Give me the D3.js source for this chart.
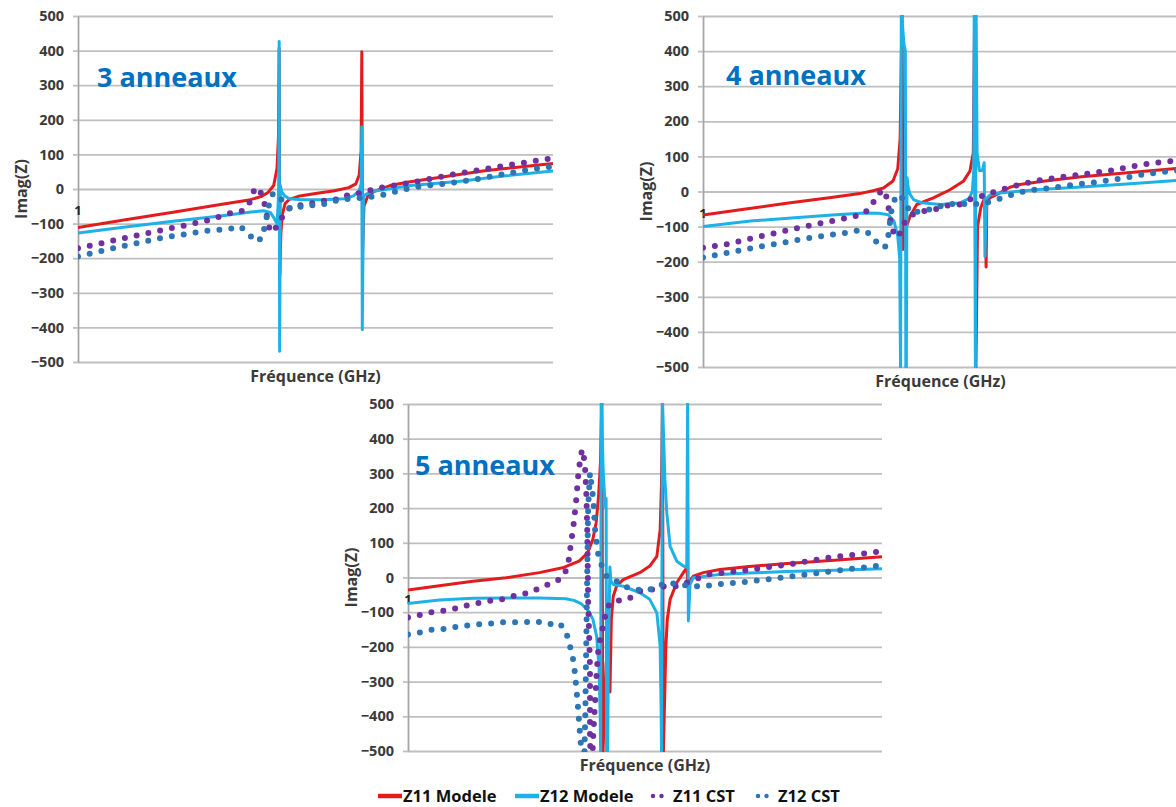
<!DOCTYPE html>
<html lang="fr">
<head>
    <meta charset="UTF-8">
    <title>Imag(Z) - 3, 4 et 5 anneaux</title>
    <script src="https://d3js.org/d3.v7.min.js"></script>
    <style>
        body {
            margin: 0;
            background: #ffffff;
        }

        svg {
            display: block;
        }

        .grid line {
            stroke: #bfbfbf;
            stroke-width: 1.8;
        }

        .grid path {
            display: none;
        }

        .y-axis path {
            stroke: #a6a6a6;
            stroke-width: 1.8;
        }

        .y-axis line {
            stroke: #bfbfbf;
            stroke-width: 1.8;
        }

        .y-axis text {
            font-family: "Open Sans", sans-serif;
            font-weight: 700;
            font-size: 14.5px;
            fill: #3a3a3a;
        }

        .axis-title {
            font-family: "Open Sans", sans-serif;
            font-weight: 700;
            font-size: 16px;
            fill: #3a3a3a;
        }

        .panel-title {
            font-family: "Open Sans", sans-serif;
            font-weight: 700;
            font-size: 27px;
            fill: #0070c0;
        }

        .cat-label {
            font-family: "Open Sans", sans-serif;
            font-weight: 700;
            font-size: 13px;
            fill: #262626;
        }

        .legend-text {
            font-family: "Open Sans", sans-serif;
            font-weight: 700;
            font-size: 16.5px;
            fill: #111111;
        }
    </style>
</head>
<body>
    <div id="chart"></div>
    <script>
        // x : position relative sur l'axe des fréquences (0..100, pas de graduations), y : Imag(Z)
        const panelTitles = ["3 anneaux", "4 anneaux", "5 anneaux"];
        const seriesNames = ["Z11 Modele", "Z12 Modele", "Z11 CST", "Z12 CST"];
        const yTicks = [-500, -400, -300, -200, -100, 0, 100, 200, 300, 400, 500];
        const xCategory = "1";

        // --- 3 anneaux ---
        const p1Z11Modele = [[0,-111],[10,-89],[20,-67],[30,-45],[36,-32],[38.5,-22],[40,-10],[41.2,10],[41.9,60],[42.2,150],[42.35,407],[42.5,-248],[42.7,-130],[43,-75],[43.6,-42],[44.5,-30],[46.7,-20],[50,-13],[54,-5],[57,4],[58.5,15],[59.2,40],[59.6,110],[59.75,397],[59.9,-185],[60.2,-50],[61,-20],[62.5,-6],[65.7,10],[69.6,20],[77.4,36],[85.2,52],[100,74]];
        const p1Z12Modele = [[0,-127],[10,-110],[20,-93],[30,-78],[36,-67],[39,-63],[40.5,-68],[41.3,-85],[41.9,-100],[42.15,-40],[42.25,10],[42.35,426],[42.45,-469],[42.6,10],[42.9,-8],[43.5,-20],[44.5,-28],[47,-31],[52,-31],[56,-28],[58,-20],[59.2,-5],[59.6,15],[59.75,180],[59.85,-407],[60.1,-20],[61.8,-7],[64,-3],[70,10],[80,22],[90,38],[100,52]];
        const p1Z11CST = [[0,-171],[5.2,-156],[10.7,-139],[16.1,-123],[21.6,-108],[27.1,-91],[32.1,-70],[34.9,-62],[36.2,-37],[37.3,5],[38.7,-14],[39.4,-50],[39.9,-90],[40.5,-125],[41.5,-115],[42.5,-95],[43.6,-64],[45.3,-49],[48.4,-45],[51,-35],[54,-32],[56,-20],[59,-13],[61.5,-4],[64.5,6],[70.4,19],[78,40],[88.7,65],[100,89]];
        const p1Z12CST = [[0,-195],[5.2,-178],[9.9,-164],[12.6,-156],[17.3,-142],[22,-132],[27.1,-121],[31.7,-116],[34.1,-108],[35.9,-128],[37.2,-152],[38.8,-142],[39.3,-108],[39.9,-70],[40.3,-37],[41.1,-11],[42.5,-25],[43.8,-45],[45,-60],[46.5,-52],[48.5,-47],[51,-47],[53.5,-36],[56,-30],[60,-25],[63,-21],[66,-11],[68,-3],[71,5],[75,12],[80,20],[85,31],[90,44],[95,56],[100,65]];

        // --- 4 anneaux ---
        const p2Z11Modele = [[0,-67],[9,-50],[18,-33],[27,-17],[33,-6],[36,3],[38,10],[40,30],[41,65],[41.5,150],[41.9,520],[42.1,-165],[42.6,-110],[43.6,-70],[45,-37],[48.5,-18],[52,5],[54.8,29],[56.2,58],[56.9,110],[57.2,520],[57.45,-520],[57.8,-100],[58.5,-45],[59.3,-18],[59.5,-100],[59.6,-215],[59.75,-30],[60.4,-18],[62.5,-4],[64.6,12],[66.7,20],[72,30],[79.7,42],[90,54],[100,66]];
        const p2Z12Modele = [[0,-100],[10,-84],[20,-74],[28,-66],[34,-61],[37,-62],[39,-66],[40.2,-84],[41,-127],[41.4,-190],[41.6,-520],[41.75,520],[42.3,420],[42.6,400],[42.7,-520],[42.8,-520],[42.95,40],[43.2,10],[43.6,-8],[44.3,-23],[46,-32],[50,-37],[54,-33],[56,-20],[56.7,0],[57,60],[57.1,520],[57.35,-520],[57.5,520],[57.7,110],[58.2,60],[58.8,60],[59.2,82],[59.35,-185],[59.7,-20],[60.4,-10],[62.5,-4],[70,5],[79.7,13],[90,22],[100,32]];
        const p2Z11CST = [[0,-160],[5,-150],[10,-134],[15,-119],[20,-104],[25,-90],[30,-76],[33.7,-65],[35.5,-42],[36.6,-8],[38.3,4],[39,-40],[39.7,-108],[41.1,-131],[42,-100],[43,-75],[44.3,-65],[46.4,-56],[48.8,-51],[51.3,-40],[54,-37],[56.6,-20],[59,-12],[61.5,0],[65.4,15],[70.7,32],[75.9,42],[81.2,51],[86.4,61],[91.7,75],[97,85],[100,88]];
        const p2Z12CST = [[0,-188],[5,-175],[10,-162],[15,-150],[20,-138],[25,-127],[30,-118],[33.1,-110],[35.2,-120],[36.6,-145],[38.3,-160],[39,-127],[39.4,-84],[39.7,-51],[40.1,-27],[41.5,-8],[42.8,-40],[43.9,-62],[45.7,-56],[48.2,-50],[51.3,-36],[54,-35],[56.6,-37],[59.7,-32],[61.1,-27],[63.5,-16],[66,-5],[68.4,3],[73.3,10],[78.2,20],[83,27],[88,37],[93.2,50],[97.3,56],[100,60]];

        // --- 5 anneaux ---
        const p3Z11Modele = [[0,-36],[7,-23],[13.7,-11],[20.7,-1],[27.7,14],[32.6,28],[36.1,47],[37.9,71],[39,110],[39.7,158],[40.2,234],[40.6,330],[40.9,520],[41.1,-520],[41.8,-250],[42.3,-190],[42.6,-330],[42.9,-120],[43.3,-54],[44,-25],[45.4,-6],[48.9,14],[51,33],[52.5,61],[53.2,138],[53.5,282],[53.7,520],[53.85,-520],[54.4,-198],[54.7,-121],[55.3,-63],[56.7,-15],[58.1,14],[58.8,28],[59.2,-40],[59.5,-10],[60.2,4],[62.3,14],[65.8,23],[72,32],[80,40],[90,50],[100,60]];
        const p3Z12Modele = [[0,-75],[6.6,-65],[13.7,-60],[20.7,-59],[27.7,-59],[33.3,-61],[35,-66],[36.5,-75],[38,-95],[39,-120],[39.8,-170],[40.3,-260],[40.55,-400],[40.65,-520],[40.75,520],[41.2,300],[41.5,228],[41.7,200],[41.8,228],[41.9,-520],[42.1,-520],[42.3,-200],[42.6,30],[42.8,-10],[43.3,-20],[45.4,-25],[48.9,-44],[51,-63],[52.5,-102],[53.2,-198],[53.4,-380],[53.5,-520],[53.65,520],[54.2,282],[54.6,186],[55.3,90],[56.7,47],[58.1,33],[58.8,30],[59,520],[59.15,-125],[59.5,-20],[60.2,-1],[62.3,3],[65.8,9],[72,13],[80,17],[90,21],[100,25]];
        const p3Z11CST = [[0,-115],[1.7,-111],[4.1,-102],[6.9,-97],[9.8,-90],[12.2,-81],[15,-73],[17.9,-66],[20.7,-61],[23.1,-49],[25.9,-44],[28.4,-25],[30.8,-15],[32.9,4],[33.8,40],[34.3,90],[34.9,148],[35.5,225],[35.9,292],[36.4,350],[36.8,369],[37.3,330],[37.6,250],[37.8,150],[37.9,50],[38,-60],[38.2,-160],[38.4,-260],[38.4,-350],[38.4,-450],[38.5,-520],[38.9,-520],[39.1,-448],[39.5,-352],[39.8,-275],[40.2,-198],[40.9,-159],[41.2,-131],[41.9,-97],[42.5,-75],[43.7,-68],[46.4,-63],[48.9,-39],[51.4,-35],[54.2,-25],[56.7,-25],[59.5,-11],[63.4,9],[72.4,23],[80.6,38],[88.8,57],[94.9,67],[100,76]];
        const p3Z12CST = [[0,-164],[2.7,-158],[5.2,-150],[7.7,-148],[10.1,-142],[14.7,-135],[17.1,-133],[19.6,-129],[24.5,-129],[27,-126],[29.5,-135],[31.9,-131],[33.3,-155],[34,-188],[35,-246],[35.4,-303],[35.8,-361],[36.1,-419],[36.5,-486],[36.8,-520],[37.2,-520],[37.4,-400],[37.6,-200],[37.8,0],[38,200],[38.4,302],[39.1,225],[39.5,129],[40.2,61],[40.9,33],[41.9,4],[42.6,4],[45.4,-25],[48.2,-35],[51,-35],[54.6,-15],[57.4,-20],[59.5,-25],[62.3,-25],[65.1,-20],[72.4,-11],[80.6,3],[88.8,17],[94.9,27],[100,35]];

        const seriesStyles = [
            { color: "#e31b1d", dotted: false },
            { color: "#1eb1e7", dotted: false },
            { color: "#7030a0", dotted: true },
            { color: "#2e75b6", dotted: true }
        ];

        const panels = [
            { title: panelTitles[0], left: 78, top: 16, width: 475, height: 346, titleX: 97, titleY: 87,
              series: [p1Z11Modele, p1Z12Modele, p1Z11CST, p1Z12CST] },
            { title: panelTitles[1], left: 703, top: 16, width: 475, height: 351, titleX: 726, titleY: 85,
              series: [p2Z11Modele, p2Z12Modele, p2Z11CST, p2Z12CST] },
            { title: panelTitles[2], left: 408, top: 404, width: 474, height: 347, titleX: 415, titleY: 475,
              series: [p3Z11Modele, p3Z12Modele, p3Z11CST, p3Z12CST] }
        ];

        const svg = d3.select("#chart")
            .append("svg")
            .attr("width", 1176)
            .attr("height", 807);

        panels.forEach((p, i) => {
            const x = d3.scaleLinear().domain([0, 100]).range([p.left, p.left + p.width]);
            const y = d3.scaleLinear().domain([-500, 500]).range([p.top + p.height, p.top]);

            const g = svg.append("g");

            g.append("clipPath")
                .attr("id", `clip${i}`)
                .append("rect")
                .attr("x", p.left)
                .attr("y", p.top - 1)
                .attr("width", p.width)
                .attr("height", p.height + 2);

            // grille horizontale
            g.append("g")
                .attr("class", "grid")
                .attr("transform", `translate(${p.left},0)`)
                .call(d3.axisLeft(y).tickValues(yTicks).tickSize(-p.width).tickFormat(""));

            // axe vertical avec étiquettes
            g.append("g")
                .attr("class", "y-axis")
                .attr("transform", `translate(${p.left},0)`)
                .call(d3.axisLeft(y).tickValues(yTicks).tickSizeInner(5).tickSizeOuter(0).tickPadding(9));

            g.append("text")
                .attr("class", "cat-label")
                .attr("x", p.left)
                .attr("y", y(-62))
                .attr("dy", "0.35em")
                .attr("text-anchor", "middle")
                .text(xCategory);

            g.append("text")
                .attr("class", "panel-title")
                .attr("x", p.titleX)
                .attr("y", p.titleY)
                .text(p.title);

            g.append("text")
                .attr("class", "axis-title")
                .attr("transform", `translate(${p.left - 57},${y(0)}) rotate(-90)`)
                .attr("text-anchor", "middle")
                .attr("dy", "0.35em")
                .text("Imag(Z)");

            g.append("text")
                .attr("class", "axis-title")
                .attr("x", p.left + p.width / 2)
                .attr("y", p.top + p.height + 20)
                .attr("text-anchor", "middle")
                .text("Fréquence (GHz)");

            const line = d3.line()
                .x(d => x(d[0]))
                .y(d => y(d[1]));

            const plot = g.append("g").attr("clip-path", `url(#clip${i})`);

            p.series.forEach((data, k) => {
                const st = seriesStyles[k];
                const path = plot.append("path")
                    .datum(data)
                    .attr("d", line)
                    .attr("fill", "none")
                    .attr("stroke", st.color)
                    .attr("stroke-linejoin", "round");
                if (st.dotted) {
                    path.attr("stroke-width", 6)
                        .attr("stroke-linecap", "round")
                        .attr("stroke-dasharray", "0 12");
                } else {
                    path.attr("stroke-width", 3);
                }
            });
        });

        // légende
        const legendX = [378, 515, 653, 758];
        const legendY = 796;
        const legend = svg.append("g");
        seriesNames.forEach((name, k) => {
            const st = seriesStyles[k];
            const x0 = legendX[k];
            const len = st.dotted ? 17 : 24;
            const seg = legend.append("path")
                .attr("d", d3.line()([[x0, legendY], [x0 + len, legendY]]))
                .attr("stroke", st.color)
                .attr("fill", "none");
            if (st.dotted) {
                seg.attr("stroke-width", 4.5)
                    .attr("stroke-linecap", "round")
                    .attr("stroke-dasharray", "0 8.5");
            } else {
                seg.attr("stroke-width", 4.5);
            }
            legend.append("text")
                .attr("class", "legend-text")
                .attr("x", x0 + len + (st.dotted ? 3 : 1))
                .attr("y", legendY)
                .attr("dy", "0.36em")
                .text(name);
        });
    </script>
</body>
</html>
